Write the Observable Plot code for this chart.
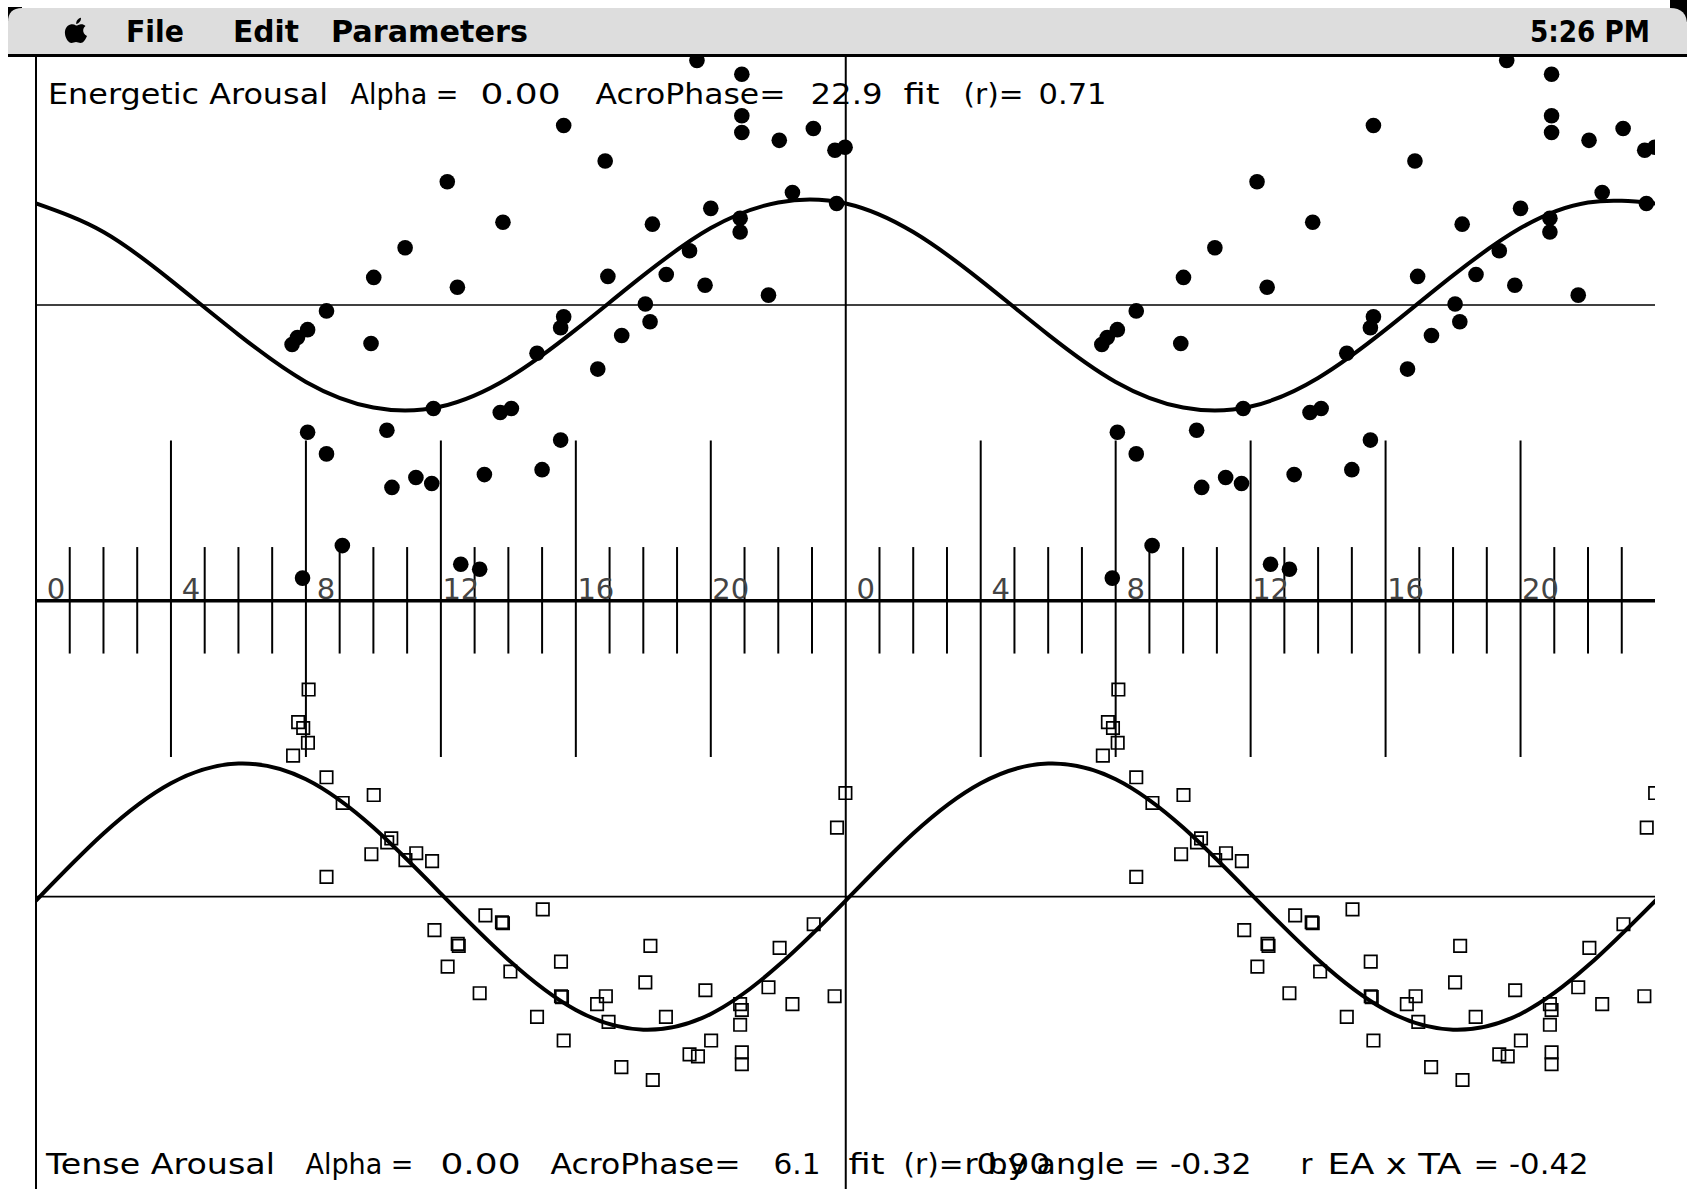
<!DOCTYPE html>
<html>
<head>
<meta charset="utf-8">
<script src="https://cdn.jsdelivr.net/npm/d3@7"></script>
<script src="https://cdn.jsdelivr.net/npm/@observablehq/plot@0.6"></script>
<style>
  html, body { margin: 0; padding: 0; background: #fff; }
  body { width: 1687px; height: 1189px; overflow: hidden; position: relative; }
  #menubar { position: absolute; left: 0; top: 0; display: block; }
  #chart { position: absolute; left: 0; top: 57px; }
</style>
</head>
<body>
<svg id="menubar" width="1687" height="57" viewBox="0 0 1687 57">
  <rect x="0" y="0" width="1687" height="57" fill="#ffffff"/>
  <rect x="8" y="7" width="14" height="14" fill="#000"/>
  <rect x="1670" y="0" width="17" height="22" fill="#000"/>
  <path d="M8,55 L8,22 Q8,8 22,8 L1670,8 Q1687,8 1687,25 L1687,55 Z" fill="#dddddd"/>
  <rect x="8" y="54" width="1679" height="3" fill="#000"/>
  <g transform="translate(64,17)">
    <path d="M12,8.5 C10.5,7.5 8.5,7 6.5,7.5 C2.5,8.5 0.5,12.5 1,17 C1.5,21.5 4.5,26 7.5,26 C9,26 10.5,25 12,25 C13.5,25 15,26 16.5,26 C19.5,26 21.5,22.5 23,19 C20,17.5 19,15 19.2,13 C19.4,11 20.5,9.8 21.5,9 C19.8,7.2 17.5,7 16,7.5 C14.5,8 13,8.5 12,8.5 Z" fill="#000"/>
    <path d="M12.2,7 C12,4 14,1.5 17,0.8 C17.2,3.8 15,6.5 12.2,7 Z" fill="#000"/>
  </g>
  <g font-family="DejaVu Sans" font-weight="bold" font-size="30" fill="#000">
    <text x="126" y="42" textLength="58" lengthAdjust="spacingAndGlyphs">File</text>
    <text x="233" y="42" textLength="66" lengthAdjust="spacingAndGlyphs">Edit</text>
    <text x="331" y="42" textLength="197" lengthAdjust="spacingAndGlyphs">Parameters</text>
    <text x="1530" y="42" textLength="120" lengthAdjust="spacingAndGlyphs">5:26 PM</text>
  </g>
</svg>
<div id="chart"></div>
<script>
// ---- data (hours of day, values in fit-amplitude units relative to the mean line) ----
const eaHours = [7.59, 7.75, 8.05, 8.61, 8.05, 8.61, 9.08, 7.90, 9.93, 10.01, 10.94, 10.40, 10.55, 11.26, 11.73, 11.78, 12.19, 12.49, 12.59, 13.15, 13.29, 13.76, 14.09, 13.84, 14.85, 15.00, 15.55, 15.55, 15.64, 15.64, 16.65, 16.87, 16.95, 17.36, 18.06, 18.20, 18.27, 18.68, 19.37, 19.59, 19.83, 20.00, 20.87, 20.87, 20.92, 20.92, 20.92, 21.71, 22.03, 22.42, 23.04, 23.68, 23.98, 23.73];
const eaValues = [-0.40, -0.33, -0.25, -0.06, -1.29, -1.51, -2.44, -2.77, -0.39, 0.28, 0.58, -1.27, -1.85, -1.75, -1.81, -1.05, 1.25, 0.18, -2.63, -2.68, -1.72, -1.09, -1.05, 0.84, -0.49, -1.67, -1.37, -0.23, 1.82, -0.12, -0.65, 1.46, 0.29, -0.31, 0.01, -0.17, 0.82, 0.31, 0.55, 2.48, 0.20, 0.98, 0.88, 0.74, 2.34, 1.92, 1.75, 0.10, 1.67, 1.14, 1.79, 1.57, 1.60, 1.03];

const taHours = [8.08, 7.77, 7.92, 8.06, 7.62, 8.61, 10.01, 9.09, 10.53, 10.41, 9.94, 10.95, 11.27, 11.74, 8.61, 11.81, 12.50, 12.53, 12.20, 23.99, 23.74, 13.32, 13.81, 13.84, 15.02, 18.21, 22.04, 23.05, 13.15, 14.06, 15.56, 15.56, 15.59, 14.85, 16.89, 16.63, 16.97, 15.64, 17.35, 18.28, 18.06, 18.67, 19.84, 20.01, 19.37, 19.62, 20.87, 20.92, 20.87, 20.92, 20.92, 21.71, 22.42, 23.67];
const taValues = [2.10, 1.77, 1.71, 1.56, 1.43, 1.21, 1.03, 0.95, 0.59, 0.55, 0.43, 0.37, 0.44, 0.36, 0.20, -0.34, -0.48, -0.50, -0.71, 1.05, 0.70, -0.19, -0.26, -0.27, -0.13, -0.50, -0.52, -0.28, -0.98, -0.76, -0.66, -1.01, -1.02, -1.22, -1.01, -1.09, -1.27, -1.46, -1.73, -1.86, -0.87, -1.22, -0.95, -1.46, -1.60, -1.62, -1.09, -1.15, -1.30, -1.58, -1.70, -0.92, -1.09, -1.01];

// fitted cosinor curves, read every two hours (one 24-hour period)
const fitHours = [0, 2, 4, 6, 8, 10, 12, 14, 16, 18, 20, 22];
const eaFitValues = [1.03, 0.74, 0.25, -0.30, -0.78, -1.04, -1.03, -0.74, -0.25, 0.30, 0.78, 1.04];
const taFitValues = [-0.04, 0.64, 1.15, 1.35, 1.19, 0.70, 0.03, -0.64, -1.15, -1.35, -1.19, -0.70];

const hourLabels = [0, 4, 8, 12, 16, 20];
const eaStats = {alpha: "0.00", acroPhase: "22.9", r: "0.71"};
const taStats = {alpha: "0.00", acroPhase: "6.1", r: "0.90", rByAngle: "-0.32", rEAxTA: "-0.42"};

// ---- tables (double plotted: day repeated over 24..48) ----
const ea = eaHours.flatMap((h, i) => [{h, v: eaValues[i]}, {h: h + 24, v: eaValues[i]}]);
const ta = taHours.flatMap((h, i) => [{h, v: taValues[i]}, {h: h + 24, v: taValues[i]}]);
const fit = d3.range(0, 25).map(i => ({
  h: fitHours[i % 12] + 24 * Math.floor(i / 12),
  ea: eaFitValues[i % 12],
  ta: taFitValues[i % 12]
}));
const hrs = d3.range(1, 48);
const shortTicks = hrs.filter(h => h % 4 !== 0);
const longTicks = hrs.filter(h => h % 4 === 0 && h !== 24);
const labelRows = [0, 24].flatMap(o => hourLabels.map(h => ({h: h + o, label: String(h)})));

const EA0 = 3, TA0 = -3;   // panel offsets on the shared vertical scale
const mL = 35.5;
const unit = 98.6, zeroY = 543.3;
const FONT = "DejaVu Sans";

const topBase = 46.3, botBase = 1116.3;
function seg(text, x, base) {
  return Plot.text([text], {
    frameAnchor: "top-left", dx: x - mL, dy: base, text: d => d,
    textAnchor: "start", lineAnchor: "bottom",
    fontFamily: FONT, fontSize: 29, fill: "black"
  });
}

const segs = [
  seg("Energetic Arousal", 47.5, topBase),
  seg("Alpha =", 350, topBase),
  seg(eaStats.alpha, 480, topBase),
  seg("AcroPhase=", 595, topBase),
  seg(eaStats.acroPhase, 810, topBase),
  seg("fit", 903, topBase),
  seg("(r)=", 963, topBase),
  seg(eaStats.r, 1038, topBase),
  seg("Tense Arousal", 45.5, botBase),
  seg("Alpha =", 305, botBase),
  seg(taStats.alpha, 440, botBase),
  seg("AcroPhase=", 550, botBase),
  seg(taStats.acroPhase, 773, botBase),
  seg("fit", 848, botBase),
  seg("(r)=", 903, botBase),
  seg("r by angle", 964, botBase),
  seg(taStats.r, 976, botBase),
  seg("= " + taStats.rByAngle, 1133, botBase),
  seg("r", 1300, botBase),
  seg("EA x TA", 1327, botBase),
  seg("= " + taStats.rEAxTA, 1473, botBase)
];

const chart = Plot.plot({
  width: 1687, height: 1132,
  marginLeft: mL, marginRight: 32, marginTop: 0, marginBottom: 0,
  x: {domain: [0, 48], axis: null},
  y: {domain: [-6, 6], range: [zeroY + 6 * unit, zeroY - 6 * unit], axis: null},
  style: {background: "white", overflow: "hidden", fontFamily: FONT},
  marks: [
    Plot.ruleX([0, 24], {stroke: "black", strokeWidth: 2}),
    Plot.ruleY([EA0, TA0], {x1: 0, x2: 48, stroke: "black", strokeWidth: 1.7}),
    Plot.ruleX(shortTicks, {x: d => d, y1: -0.54, y2: 0.54, stroke: "black", strokeWidth: 2}),
    Plot.ruleX(longTicks, {x: d => d, y1: -1.59, y2: 1.62, stroke: "black", strokeWidth: 2}),
    Plot.ruleY([0], {x1: 0, x2: 48, stroke: "black", strokeWidth: 3.5}),
    Plot.text(labelRows, {x: "h", y: 0, text: "label", dx: 20, dy: -2, textAnchor: "middle", lineAnchor: "bottom", fontFamily: FONT, fontSize: 29, fill: "#444"}),
    Plot.line(fit, {x: "h", y: d => EA0 + d.ea, curve: "natural", stroke: "black", strokeWidth: 4, clip: true}),
    Plot.line(fit, {x: "h", y: d => TA0 + d.ta, curve: "natural", stroke: "black", strokeWidth: 4, clip: true}),
    Plot.dot(ea, {x: "h", y: d => EA0 + d.v, r: 7.8, fill: "black", stroke: "none", clip: true}),
    Plot.dot(ta, {x: "h", y: d => TA0 + d.v, r: 7, symbol: "square", fill: "none", stroke: "black", strokeWidth: 1.7, clip: true}),
    ...segs
  ]
});

const widths = new Map([
  ["Energetic Arousal", 280], ["Alpha =", 108], ["0.00", 80], ["AcroPhase=", 190],
  ["22.9", 72], ["fit", 36], ["(r)=", 60], ["0.71", 68], ["Tense Arousal", 229],
  ["6.1", 47], ["0.90", 74], ["r by angle", 160], ["= -0.32", 118], ["EA x TA", 134], ["= -0.42", 115]
]);
chart.querySelectorAll("text").forEach(t => {
  const w = widths.get(t.textContent);
  if (w) { t.setAttribute("textLength", w); t.setAttribute("lengthAdjust", "spacingAndGlyphs"); }
});

document.getElementById("chart").appendChild(chart);
</script>
</body>
</html>
